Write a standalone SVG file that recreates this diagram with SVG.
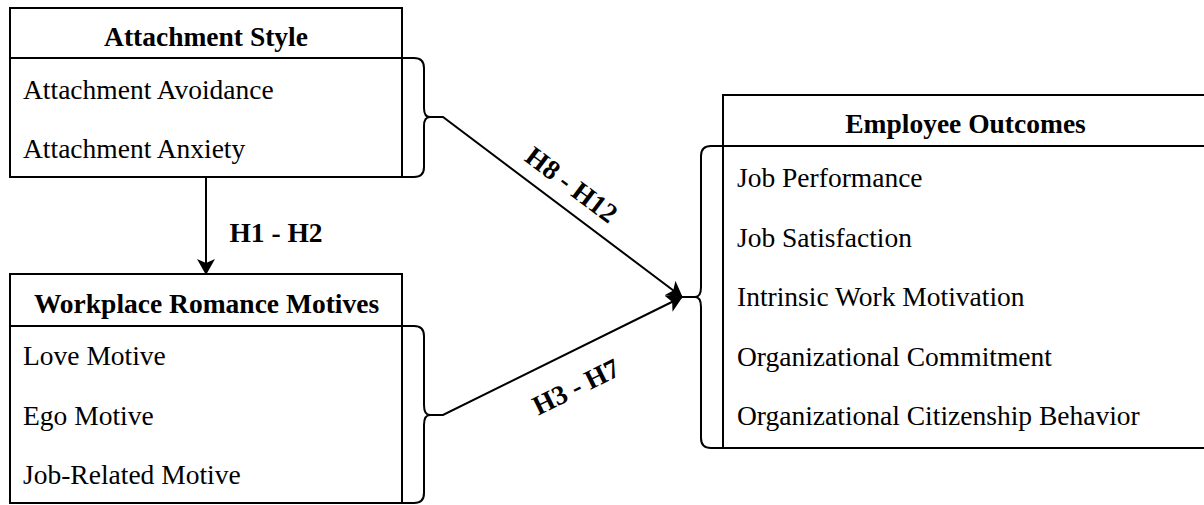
<svg xmlns="http://www.w3.org/2000/svg" width="1204" height="505" viewBox="0 0 1204 505">
  <style>
    .box { fill: #ffffff; stroke: #000000; stroke-width: 2; }
    .ln { fill: none; stroke: #000000; stroke-width: 2; }
    .hd { font-family: "Liberation Serif", "Times New Roman", serif; font-size: 27.5px; font-weight: bold; fill: #000000; text-anchor: middle; }
    .it { font-family: "Liberation Serif", "Times New Roman", serif; font-size: 27.5px; fill: #000000; }
    .lb { font-family: "Liberation Serif", "Times New Roman", serif; font-size: 27.5px; font-weight: bold; fill: #000000; text-anchor: middle; }
  </style>
  <defs>
    <marker id="arrow" viewBox="0 0 16 18" refX="15" refY="9" markerWidth="16" markerHeight="18" markerUnits="userSpaceOnUse" orient="auto">
      <path d="M0,0 L16,9 L0,18 L4,9 Z" fill="#000000"/>
    </marker>
  </defs>
  <rect width="1204" height="505" fill="#ffffff"/>

  <g id="attachment-style">
    <rect class="box" x="10" y="8" width="392" height="169"/>
    <line class="ln" x1="10" y1="58" x2="402" y2="58"/>
    <text class="hd" x="206" y="46">Attachment Style</text>
    <text class="it" x="23" y="99">Attachment Avoidance</text>
    <text class="it" x="23" y="158">Attachment Anxiety</text>
    <path class="ln" d="M402,58 H414 Q424,58 424,68 V108 Q424,117 430,117 Q424,117 424,126 V167 Q424,177 414,177 H402"/>
  </g>

  <g id="workplace-romance-motives">
    <rect class="box" x="10" y="274" width="392" height="229"/>
    <line class="ln" x1="10" y1="326" x2="402" y2="326"/>
    <text class="hd" x="206.5" y="313">Workplace Romance Motives</text>
    <text class="it" x="23" y="365">Love Motive</text>
    <text class="it" x="23" y="425">Ego Motive</text>
    <text class="it" x="23" y="484">Job-Related Motive</text>
    <path class="ln" d="M402,326 H414 Q424,326 424,336 V405 Q424,415 430,415 Q424,415 424,425 V493 Q424,503 414,503 H402"/>
  </g>

  <g id="employee-outcomes">
    <rect class="box" x="723" y="95" width="490" height="353"/>
    <line class="ln" x1="723" y1="146" x2="1213" y2="146"/>
    <text class="hd" x="965.5" y="133">Employee Outcomes</text>
    <text class="it" x="737" y="187">Job Performance</text>
    <text class="it" x="737" y="247">Job Satisfaction</text>
    <text class="it" x="737" y="306">Intrinsic Work Motivation</text>
    <text class="it" x="737" y="366">Organizational Commitment</text>
    <text class="it" x="737" y="425">Organizational Citizenship Behavior</text>
    <path class="ln" d="M723,146 H711 Q701,146 701,156 V287 Q701,297 695,297 Q701,297 701,307 V438 Q701,448 711,448 H723"/>
  </g>

  <g id="connectors">
    <line class="ln" x1="206" y1="177" x2="206" y2="274" marker-end="url(#arrow)"/>
    <text class="lb" x="276" y="242">H1 - H2</text>
    <path class="ln" d="M430,117 H443 L682,297" marker-end="url(#arrow)"/>
    <path class="ln" d="M430,415 H443 L682,297" marker-end="url(#arrow)"/>
    <line class="ln" x1="680" y1="297" x2="695" y2="297"/>
    <text class="lb" transform="translate(571.5,185) rotate(36.9)" x="0" y="9">H8 - H12</text>
    <text class="lb" transform="translate(576,387) rotate(-26.3)" x="0" y="9">H3 - H7</text>
  </g>
</svg>
